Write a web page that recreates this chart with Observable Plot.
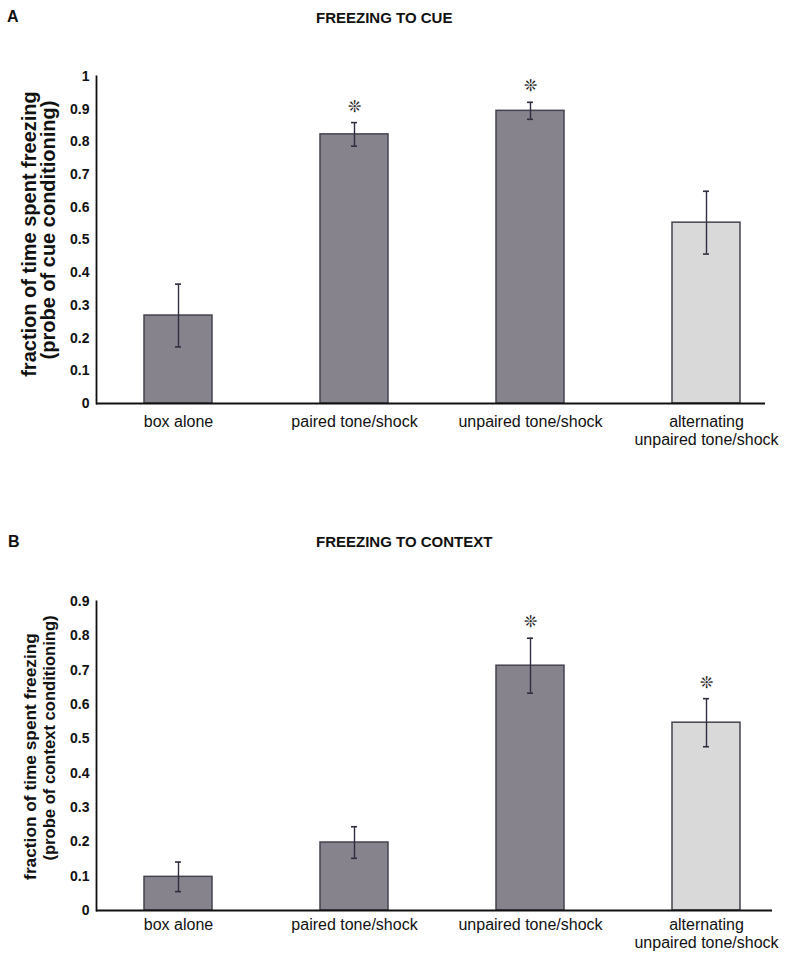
<!DOCTYPE html>
<html>
<head>
<meta charset="utf-8">
<script src="https://cdn.jsdelivr.net/npm/d3@7"></script>
<script src="https://cdn.jsdelivr.net/npm/@observablehq/plot@0.6"></script>
<style>
  html, body { margin: 0; padding: 0; background: #fff; }
  #fig { position: relative; width: 800px; height: 959px; font-family: "Liberation Sans", Arial, sans-serif; color: #111; }
  .abs { position: absolute; }
  .letter { font-weight: bold; font-size: 16px; }
  .title { font-weight: bold; font-size: 15px; }
</style>
</head>
<body>
<div id="fig">
  <div class="abs letter" style="left:7px;top:8px;">A</div>
  <div class="abs title" style="left:316px;top:9px;">FREEZING TO CUE</div>
  <div class="abs" id="panelA" style="left:0;top:40px;"></div>
  <div class="abs letter" style="left:8px;top:533px;">B</div>
  <div class="abs title" style="left:316px;top:533px;">FREEZING TO CONTEXT</div>
  <div class="abs" id="panelB" style="left:0;top:568px;"></div>
</div>
<script>
// ---- data ----
const categories = ["box alone", "paired tone/shock", "unpaired tone/shock", "alternating unpaired tone/shock"];
const categoryLabels = ["box alone", "paired tone/shock", "unpaired tone/shock", "alternating\nunpaired tone/shock"];

const cueMean = [0.269, 0.823, 0.895, 0.553];
const cueErr = [0.096, 0.036, 0.026, 0.096];
const cueSignificant = [false, true, true, false];
const cueTicks = [0, 0.1, 0.2, 0.3, 0.4, 0.5, 0.6, 0.7, 0.8, 0.9, 1];
const cueTickLabels = ["0", "0.1", "0.2", "0.3", "0.4", "0.5", "0.6", "0.7", "0.8", "0.9", "1"];

const contextMean = [0.098, 0.198, 0.713, 0.547];
const contextErr = [0.043, 0.046, 0.080, 0.070];
const contextSignificant = [false, false, true, true];
const contextTicks = [0, 0.1, 0.2, 0.3, 0.4, 0.5, 0.6, 0.7, 0.8, 0.9];
const contextTickLabels = ["0", "0.1", "0.2", "0.3", "0.4", "0.5", "0.6", "0.7", "0.8", "0.9"];

const yLabelLine1 = "fraction of time spent freezing";
const cueLabelLine2 = "(probe of cue conditioning)";
const contextLabelLine2 = "(probe of context conditioning)";

// ---- drawing ----
const darkFill = "#86838c", lightFill = "#d9d9d9";

function panel(o) {
  const data = categories.map((c, i) => ({cat: c, mean: o.mean[i], err: o.err[i], sig: o.sig[i]}));
  const errColor = "#2e2e40";
  return Plot.plot({
    width: 800,
    height: o.height,
    marginLeft: 96,
    marginRight: o.marginRight,
    marginTop: o.marginTop,
    marginBottom: o.marginBottom,
    style: {fontFamily: "Liberation Sans, Arial, sans-serif", color: "#111", background: "transparent", overflow: "visible"},
    x: {domain: categories, paddingInner: 0.612, paddingOuter: o.po, align: o.align, label: null},
    y: {domain: o.yDomain, label: null},
    marks: [
      Plot.barY(data, {x: "cat", y: "mean", fill: d => d.cat === categories[3] ? lightFill : darkFill, stroke: "#45434f", strokeWidth: 1.5}),
      Plot.ruleX(data, {x: "cat", y1: d => d.mean - d.err, y2: d => d.mean + d.err, stroke: errColor, strokeWidth: 1.4}),
      Plot.tickY(data, {x: "cat", y: d => d.mean - d.err, inset: 31, stroke: errColor, strokeWidth: 1.6}),
      Plot.tickY(data, {x: "cat", y: d => d.mean + d.err, inset: 31, stroke: errColor, strokeWidth: 1.6}),
      Plot.text(data.filter(d => d.sig), {x: "cat", y: d => d.mean + d.err, dy: -16, text: () => "\u274A", fontSize: 16, fontFamily: "DejaVu Sans", fill: "#222"}),
      Plot.axisY({ticks: o.ticks, tickSize: 0, tickPadding: 7, fontSize: 14, fontWeight: "bold", tickFormat: d => o.tickLabels[o.ticks.indexOf(d)], label: null}),
      Plot.axisX({tickSize: 0, tickPadding: o.xPad, fontSize: 16, lineHeight: 1.12, fill: "#111", tickFormat: d => categoryLabels[categories.indexOf(d)], label: null}),
      Plot.frame({anchor: "left", stroke: "#111", strokeWidth: 1.8}),
      Plot.ruleY([0], {stroke: "#111", strokeWidth: 2.2}),
      Plot.text([yLabelLine1], {frameAnchor: "left", textAnchor: "middle", dx: o.l1dx, dy: o.l1dy, rotate: -90, fontSize: o.l1size, fontWeight: "bold", fill: "#111"}),
      Plot.text([o.line2], {frameAnchor: "left", textAnchor: "middle", dx: o.l2dx, dy: o.l2dy, rotate: -90, fontSize: o.l2size, fontWeight: "bold", fill: "#111"})
    ]
  });
}

document.getElementById("panelA").appendChild(panel({
  mean: cueMean, err: cueErr, sig: cueSignificant,
  yDomain: [0, 1], ticks: cueTicks, tickLabels: cueTickLabels,
  height: 428, marginTop: 36, marginBottom: 65, marginRight: 35,
  po: 0.2017, align: 0.662, xPad: 11,
  line2: cueLabelLine2,
  l1dx: -67, l1dy: -6, l1size: 20,
  l2dx: -47.5, l2dy: -10, l2size: 20
}));

document.getElementById("panelB").appendChild(panel({
  mean: contextMean, err: contextErr, sig: contextSignificant,
  yDomain: [0, 0.9], ticks: contextTicks, tickLabels: contextTickLabels,
  height: 392, marginTop: 33, marginBottom: 50, marginRight: 28,
  po: 0.2216, align: 0.603, xPad: 7,
  line2: contextLabelLine2,
  l1dx: -66.5, l1dy: 0.5, l1size: 17.3,
  l2dx: -47, l2dy: -18, l2size: 16.6
}));
</script>
</body>
</html>
